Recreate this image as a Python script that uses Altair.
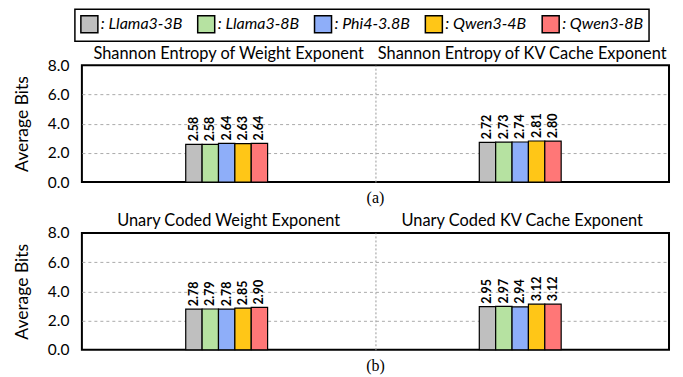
import altair as alt
import pandas as pd

models = ["Llama3-3B", "Llama3-8B", "Phi4-3.8B", "Qwen3-4B", "Qwen3-8B"]
colors = ["#bfbfbf", "#b6e2a1", "#8eaef9", "#ffc617", "#ff7777"]

groups_a = ["Shannon Entropy of Weight Exponent", "Shannon Entropy of KV Cache Exponent"]
groups_b = ["Unary Coded Weight Exponent", "Unary Coded KV Cache Exponent"]

vals_a_weight = [2.58, 2.58, 2.64, 2.63, 2.64]
vals_a_kv = [2.72, 2.73, 2.74, 2.81, 2.80]
vals_b_weight = [2.78, 2.79, 2.78, 2.85, 2.90]
vals_b_kv = [2.95, 2.97, 2.94, 3.12, 3.12]

y_ticks = [0, 2, 4, 6, 8]

FONT = "Lato"
PLOT_W = 588
PLOT_H = 117
GROUP_W = 82
GROUP_OFF = 104


def make_df(groups, v1, v2):
    rows = []
    for g, vals in zip(groups, [v1, v2]):
        for m, v in zip(models, vals):
            rows.append({"group": g, "model": m, "value": v})
    return pd.DataFrame(rows)


def panel(df, groups, caption, show_legend):
    legend = None
    if show_legend:
        legend = alt.Legend(
            title=None, orient="none", legendX=-7, legendY=-56,
            direction="horizontal", symbolType="square", symbolSize=290,
            symbolStrokeColor="black", symbolStrokeWidth=1.5,
            labelExpr="': ' + datum.label", labelFont=FONT,
            labelFontStyle="italic", labelFontSize=16, labelOffset=2,
            columnPadding=11, strokeColor="black", padding=5,
            labelColor="black", labelLimit=0,
        )
    base = alt.Chart(df).encode(
        x=alt.X(
            "group:N", sort=groups,
            scale=alt.Scale(paddingInner=0, paddingOuter=0),
            axis=alt.Axis(
                orient="top", title=None, labelAngle=0, ticks=False,
                domain=False, grid=True, gridDash=[2, 2], gridColor="#999999",
                gridOpacity={"condition": {"test": f"datum.value == '{groups[0]}'", "value": 0}, "value": 1},
                bandPosition=0, labelFontSize=16.4, labelFont=FONT,
                labelPadding=4, labelColor="black", labelBound=False,
                labelLimit=0,
            ),
        ),
        xOffset=alt.XOffset(
            "model:N", sort=models,
            scale=alt.Scale(range=[GROUP_OFF, GROUP_OFF + GROUP_W], paddingInner=0, paddingOuter=0),
        ),
        y=alt.Y(
            "value:Q", scale=alt.Scale(domain=[0, 8]),
            axis=alt.Axis(
                values=y_ticks, format=".1f", title="Average Bits",
                grid=True, gridDash=[3, 3], gridColor="#aaaaaa",
                gridOpacity={"condition": {"test": "datum.value == 0 || datum.value == 8", "value": 0}, "value": 1},
                ticks=False, domain=False, labelFontSize=15.5, labelFont=FONT,
                titleFont=FONT, titleFontSize=17.5, titleFontWeight="normal",
                labelPadding=13, titlePadding=16, labelColor="black",
                titleColor="black",
            ),
        ),
    )
    bars = base.mark_bar(stroke="black", strokeWidth=1.2).encode(
        color=alt.Color("model:N", sort=models,
                        scale=alt.Scale(domain=models, range=colors),
                        legend=legend),
    )
    text = base.mark_text(
        angle=270, align="left", baseline="middle", dx=3,
        fontWeight="bold", fontSize=12.5, font=FONT, color="black",
    ).encode(text=alt.Text("value:Q", format=".2f"))
    return alt.layer(bars, text).properties(
        width=PLOT_W, height=PLOT_H,
        title=alt.TitleParams(caption, orient="bottom", font="Liberation Serif",
                              fontSize=16, fontWeight="normal", offset=0,
                              frame="group", color="black"),
    )


pa = panel(make_df(groups_a, vals_a_weight, vals_a_kv), groups_a, "(a)", True)
pb = panel(make_df(groups_b, vals_b_weight, vals_b_kv), groups_b, "(b)", False)

chart = alt.vconcat(pa, pb, spacing=4).properties(
    padding={"left": 4, "top": 0, "right": 5, "bottom": 2},
    background="white",
).configure_view(stroke="black", strokeWidth=2).configure_legend(strokeWidth=1.5)

chart.save("out.html", embed_options={"renderer": "svg", "actions": False})
